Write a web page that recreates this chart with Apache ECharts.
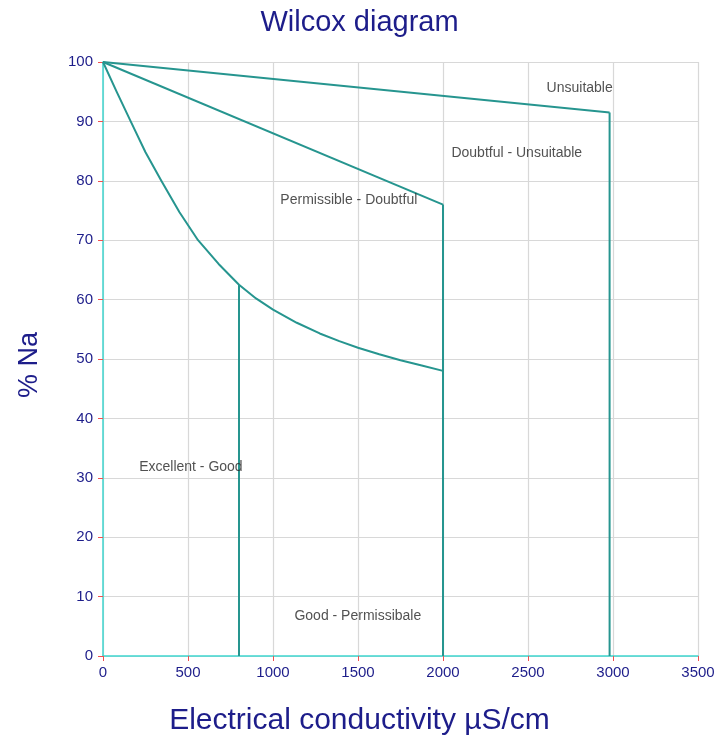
<!DOCTYPE html>
<html>
<head>
<meta charset="utf-8">
<script src="https://cdn.jsdelivr.net/npm/echarts@6/dist/echarts.min.js"></script>
<style>
  html, body { margin: 0; padding: 0; background: #fff; }
  #chart { width: 719px; height: 749px; }
</style>
</head>
<body>
<div id="chart"></div>
<script>
// Boundary lines of the Wilcox classification (EC in µS/cm, % Na)
const upperLine = [[0, 100], [2980, 91.5]];
const middleLine = [[0, 100], [2000, 76]];
const lowerCurve = [[0, 100], [80, 95], [163, 90], [250, 84.8], [343, 80], [450, 74.7],
  [559, 70], [680, 66], [800, 62.5], [900, 60.2], [1000, 58.3], [1140, 56.1],
  [1275, 54.3], [1390, 53], [1500, 51.9], [1625, 50.8], [1750, 49.8], [1875, 48.9], [2000, 48]];
const vertical800 = [[800, 62.5], [800, 0]];
const vertical2000 = [[2000, 76], [2000, 0]];
const vertical2980 = [[2980, 91.5], [2980, 0]];

// Class names and where they sit
const classNames = ['Unsuitable', 'Doubtful - Unsuitable', 'Permissible - Doubtful', 'Excellent - Good', 'Good - Permissibale'];
const classX = [2804, 2434, 1446, 517, 1499];
const classY = [95.6, 84.6, 76.7, 31.8, 6.7];

const xTicks = [0, 500, 1000, 1500, 2000, 2500, 3000, 3500];
const yTicks = [0, 10, 20, 30, 40, 50, 60, 70, 80, 90, 100];

const lineColor = '#26958f';
const navy = '#1d1d8a';
const font = 'Liberation Sans, Arial, sans-serif';

function boundary(data) {
  return {
    type: 'line', data: data, showSymbol: false, symbol: 'none',
    lineStyle: { color: lineColor, width: 2, join: 'round' }, silent: true, z: 3
  };
}

const chart = echarts.init(document.getElementById('chart'), null, { renderer: 'canvas' });
chart.setOption({
  animation: false,
  backgroundColor: '#ffffff',
  title: {
    text: 'Wilcox diagram', left: 'center', top: 3,
    textStyle: { color: navy, fontSize: 29, fontWeight: 'normal', fontFamily: font }
  },
  grid: { left: 103, right: 21, top: 62, bottom: 93 },
  xAxis: {
    type: 'value', min: xTicks[0], max: xTicks[xTicks.length - 1], interval: 500,
    axisLine: { onZero: false, lineStyle: { color: '#3fd6cf', width: 1.5 } },
    axisTick: { show: true, length: 5, lineStyle: { color: '#f05050' } },
    axisLabel: { color: navy, fontSize: 15, fontFamily: font, margin: 9, formatter: v => String(v) },
    splitLine: { show: true, lineStyle: { color: '#d8d8d8', width: 1.2 } }
  },
  yAxis: {
    type: 'value', min: yTicks[0], max: yTicks[yTicks.length - 1], interval: 10,
    axisLine: { show: true, onZero: false, lineStyle: { color: '#3fd6cf', width: 1.5 } },
    axisTick: { show: true, length: 5, lineStyle: { color: '#f05050' } },
    axisLabel: { color: navy, fontSize: 15, fontFamily: font, margin: 10, formatter: v => String(v) },
    splitLine: { show: true, lineStyle: { color: '#d8d8d8', width: 1.2 } }
  },
  // Axis titles, centred on the page width like the chart title
  graphic: [
    {
      type: 'text', left: 'center', top: 706,
      style: { text: 'Electrical conductivity µS/cm', fill: navy, font: '30px ' + font }
    },
    {
      type: 'text', x: 16, y: 398, rotation: Math.PI / 2,
      style: { text: '% Na', fill: navy, font: '27px ' + font }
    }
  ],
  series: [
    boundary(upperLine),
    boundary(middleLine),
    boundary(lowerCurve),
    boundary(vertical800),
    boundary(vertical2000),
    boundary(vertical2980),
    {
      type: 'scatter', symbolSize: 0, silent: true, z: 5,
      data: classNames.map((n, i) => ({ name: n, value: [classX[i], classY[i]] })),
      label: {
        show: true, position: 'inside', formatter: p => p.name,
        color: '#262626', fontSize: 14, fontFamily: font
      }
    }
  ]
});
</script>
</body>
</html>
